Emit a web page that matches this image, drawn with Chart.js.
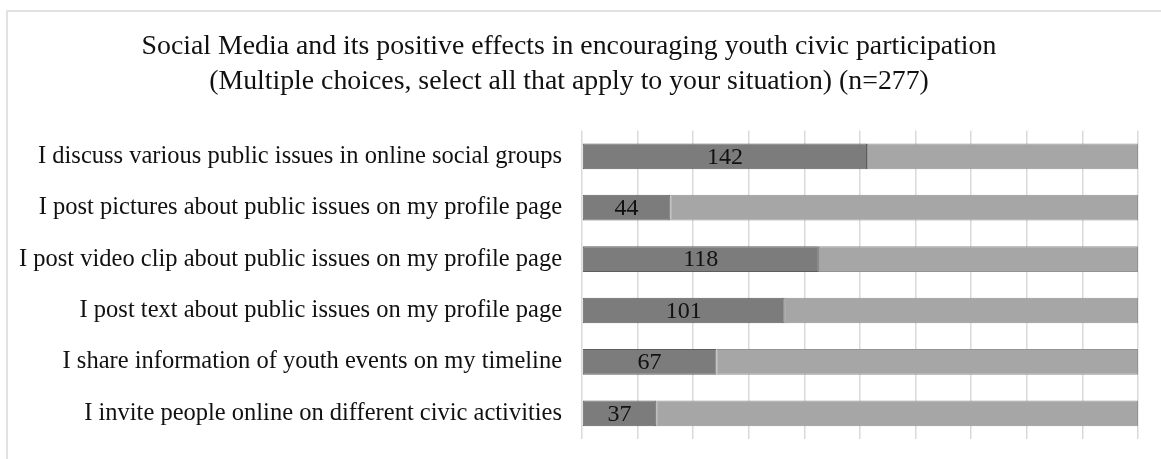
<!DOCTYPE html>
<html>
<head>
<meta charset="utf-8">
<script src="https://cdn.jsdelivr.net/npm/chart.js@4/dist/chart.umd.min.js"></script>
<style>
  html, body { margin: 0; padding: 0; background: #fff; }
  #wrap { position: relative; width: 1161px; height: 459px; }
  #frame { position: absolute; left: 6px; top: 10px; right: 0; bottom: 0;
           border-top: 2px solid #e2e2e2; border-left: 2px solid #e2e2e2; }
  canvas { position: absolute; left: 0; top: 0; }
</style>
</head>
<body>
<div id="wrap">
  <div id="frame"></div>
  <canvas id="chart" width="1161" height="459"></canvas>
</div>
<script>
// survey answers (respondents who ticked each option), n = 277
const total = 277;
const categories = [
  'I discuss various public issues in online social groups',
  'I post pictures about public issues on my profile page',
  'I post video clip about public issues on my profile page',
  'I post text about public issues on my profile page',
  'I share information of youth events on my timeline',
  'I invite people online on different civic activities'
];
const yesCounts = [142, 44, 118, 101, 67, 37];
const restCounts = yesCounts.map(v => total - v);

const serif = "'Liberation Serif', 'Times New Roman', serif";

// writes the count in the middle of the dark segment
const countLabels = {
  id: 'countLabels',
  afterDatasetsDraw(chart) {
    const c = chart.ctx;
    const meta = chart.getDatasetMeta(0);
    c.save();
    c.font = '24px ' + serif;
    c.fillStyle = '#111';
    c.textAlign = 'center';
    c.textBaseline = 'middle';
    meta.data.forEach((bar, i) => {
      c.fillText(String(yesCounts[i]), (bar.base + bar.x) / 2, bar.y + 1);
    });
    c.restore();
  }
};

const ctx = document.getElementById('chart');
new Chart(ctx, {
  type: 'bar',
  data: {
    labels: categories,
    datasets: [{
      data: yesCounts,
      backgroundColor: '#7c7c7c',
      borderColor: '#5e5e5e',
      borderWidth: 1,
      borderRadius: 2,
      borderSkipped: false
    }, {
      data: restCounts,
      backgroundColor: '#a6a6a6',
      borderColor: '#939393',
      borderWidth: 1,
      borderSkipped: false
    }]
  },
  options: {
    indexAxis: 'y',
    responsive: false,
    animation: false,
    layout: { padding: { left: 0, right: 23, top: 0, bottom: 20 } },
    datasets: { bar: { barPercentage: 0.5, categoryPercentage: 1 } },
    scales: {
      x: {
        stacked: true,
        min: 0,
        max: total,
        afterBuildTicks(scale) {
          scale.ticks = Array.from({ length: 11 }, (_, i) => ({ value: total * i / 10 }));
        },
        afterFit(scale) { scale.height = 0; },
        ticks: { display: false },
        grid: { color: '#dadada', lineWidth: 1.5, drawTicks: false },
        border: { display: false }
      },
      y: {
        stacked: true,
        afterFit(scale) {
          scale.width = 582;
          // labels sit inside their bands, no extra room needed above/below
          scale.paddingTop = 0;
          scale.paddingBottom = 0;
        },
        grid: { display: false, drawTicks: false },
        border: { display: false },
        ticks: {
          padding: 20,
          color: '#111',
          font: { family: serif, size: 24.5 }
        }
      }
    },
    plugins: {
      legend: { display: false },
      tooltip: { enabled: false },
      title: {
        display: true,
        text: [
          'Social Media and its positive effects in encouraging youth civic participation',
          '(Multiple choices, select all that apply to your situation) (n=277)'
        ],
        color: '#111',
        font: { family: serif, size: 27.8, weight: 'normal', lineHeight: 1.27 },
        padding: { top: 29, bottom: 31 }
      }
    }
  },
  plugins: [countLabels]
});
</script>
</body>
</html>
